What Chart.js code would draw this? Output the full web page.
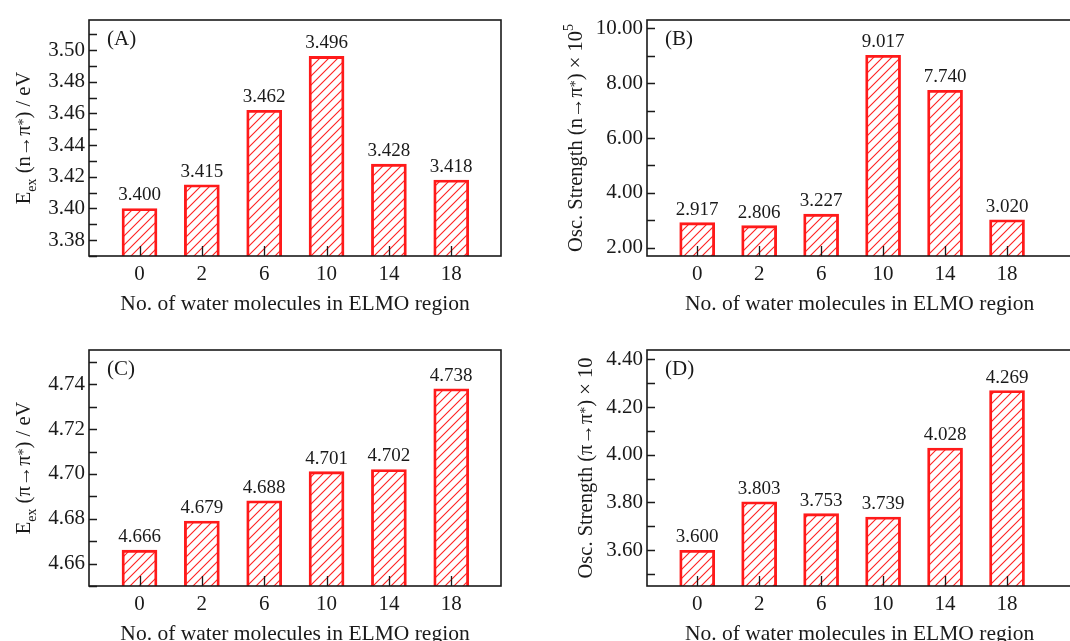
<!DOCTYPE html>
<html>
<head>
<meta charset="utf-8">
<script src="https://cdn.jsdelivr.net/npm/chart.js@4.4.1/dist/chart.umd.min.js"></script>
<style>
  html, body { margin: 0; padding: 0; background: #fff; }
  body { position: relative; width: 1070px; height: 641px; overflow: hidden; }
  .panel { position: absolute; }
</style>
</head>
<body>
<div class="panel" style="left:0;top:0;width:535px;height:320px"><canvas id="chartA"></canvas></div>
<div class="panel" style="left:535px;top:0;width:540px;height:320px"><canvas id="chartB"></canvas></div>
<div class="panel" style="left:0;top:320px;width:535px;height:330px"><canvas id="chartC"></canvas></div>
<div class="panel" style="left:535px;top:320px;width:540px;height:330px"><canvas id="chartD"></canvas></div>
<script>
// data
const categories = ['0', '2', '6', '10', '14', '18'];
const excNPi  = [3.400, 3.415, 3.462, 3.496, 3.428, 3.418];   // (A) E_ex n->pi* / eV
const oscNPi  = [2.917, 2.806, 3.227, 9.017, 7.740, 3.020];   // (B) osc. strength x 10^5
const excPiPi = [4.666, 4.679, 4.688, 4.701, 4.702, 4.738];   // (C) E_ex pi->pi* / eV
const oscPiPi = [3.600, 3.803, 3.753, 3.739, 4.028, 4.269];   // (D) osc. strength x 10

const SERIF = '"Liberation Serif", "Times New Roman", serif';
const RED = '#ff1a1a';
const INK = '#1a1a1a';

// diagonal hatch used for every bar
function hatch() {
  const c = document.createElement('canvas');
  c.width = 9; c.height = 9;
  const g = c.getContext('2d');
  g.strokeStyle = 'rgba(255,20,20,0.95)';
  g.lineWidth = 1.1;
  g.beginPath();
  g.moveTo(-1, 10); g.lineTo(10, -1);
  g.moveTo(-2, 2); g.lineTo(2, -2);
  g.moveTo(7, 11); g.lineTo(11, 7);
  g.stroke();
  return g.createPattern(c, 'repeat');
}

// rotated axis title with sub/superscripts
function drawRich(ctx, parts, cx, cy, size) {
  ctx.save();
  ctx.translate(cx, cy);
  ctx.rotate(-Math.PI / 2);
  ctx.fillStyle = INK;
  ctx.textBaseline = 'alphabetic';
  ctx.textAlign = 'left';
  const small = Math.round(size * 0.68);
  let total = 0;
  parts.forEach(p => {
    ctx.font = (p.sub || p.sup ? small : size) + 'px ' + SERIF;
    p.w = ctx.measureText(p.t).width;
    total += p.w;
  });
  let x = -total / 2;
  const base = size * 0.34;
  parts.forEach(p => {
    ctx.font = (p.sub || p.sup ? small : size) + 'px ' + SERIF;
    let y = base;
    if (p.sub) y += size * 0.28;
    if (p.sup) y -= size * (p.t === '*' ? 0.12 : 0.42);
    ctx.fillText(p.t, x, y);
    x += p.w;
  });
  ctx.restore();
}

const decorations = {
  id: 'decorations',
  afterDatasetsDraw(chart, args, opts) {
    const ctx = chart.ctx;
    const meta = chart.getDatasetMeta(0);
    ctx.save();
    ctx.fillStyle = INK;
    ctx.font = '19px ' + SERIF;
    ctx.textAlign = 'center';
    ctx.textBaseline = 'alphabetic';
    meta.data.forEach((bar, i) => {
      ctx.fillText(opts.values[i].toFixed(3), bar.x, bar.y - 8);
    });
    ctx.restore();
  },
  afterDraw(chart, args, opts) {
    const ctx = chart.ctx;
    const a = chart.chartArea;
    const xs = chart.scales.x, ys = chart.scales.y;
    ctx.save();
    // inward tick marks
    ctx.strokeStyle = INK;
    ctx.lineWidth = 1.3;
    ctx.beginPath();
    ys.ticks.forEach(t => {
      const y = Math.round(ys.getPixelForValue(t.value)) + 0.5;
      ctx.moveTo(a.left, y); ctx.lineTo(a.left + 8, y);
    });
    xs.ticks.filter(t => categories[t.value] !== undefined).forEach(t => {
      const x = Math.round(xs.getPixelForValue(t.value)) + 0.5;
      ctx.moveTo(x, a.bottom); ctx.lineTo(x, a.bottom - 10);
    });
    ctx.stroke();
    // frame
    ctx.lineWidth = 1.6;
    ctx.strokeRect(a.left, a.top, a.right - a.left, a.bottom - a.top);
    ctx.fillStyle = INK;
    ctx.font = '21px ' + SERIF;
    ctx.textAlign = 'left';
    ctx.textBaseline = 'middle';
    ctx.fillText(opts.tag, a.left + 18, a.top + 19);
    ctx.restore();
    drawRich(ctx, opts.yTitle, opts.yTitleX, (a.top + a.bottom) / 2, 20.5);
  }
};

function makePanel(id, values, p) {
  return new Chart(document.getElementById(id), {
    type: 'bar',
    data: {
      datasets: [{
        data: values.map((v, i) => ({ x: i, y: v })),
        backgroundColor: hatch(),
        borderColor: RED,
        borderWidth: 2.2,
        borderSkipped: false,
        barThickness: 35
      }]
    },
    options: {
      responsive: true,
      maintainAspectRatio: false,
      animation: false,
      layout: { padding: { left: 0, right: p.padRight, top: p.padTop, bottom: 0 } },
      plugins: {
        legend: { display: false },
        tooltip: { enabled: false },
        decorations: { values: values, tag: p.tag, yTitle: p.yTitle, yTitleX: p.yTitleX }
      },
      scales: {
        x: {
          type: 'linear',
          offset: false,
          min: -0.81,
          max: p.xMax,
          afterFit: s => { s.height = 64; },
          border: { display: false },
          grid: { display: false, offset: false, drawTicks: false, tickLength: 0 },
          ticks: {
            stepSize: 1,
            includeBounds: false,
            autoSkip: false,
            maxRotation: 0,
            padding: 6,
            color: INK,
            font: { family: SERIF, size: 21 },
            callback: v => categories[v] ?? ''
          },
          title: {
            display: true,
            text: 'No. of water molecules in ELMO region',
            color: INK,
            font: { family: SERIF, size: 21.5 },
            padding: { top: 0, bottom: 3 }
          }
        },
        y: {
          min: p.yMin,
          max: p.yMax,
          afterFit: s => { s.width = p.yWidth; },
          border: { display: false },
          grid: { display: false, drawTicks: false, tickLength: 0 },
          ticks: {
            stepSize: p.step,
            includeBounds: false,
            autoSkip: false,
            padding: 4,
            color: INK,
            font: { family: SERIF, size: 21 },
            callback: v => (Math.round(v / p.step) % 2 === 0 ? v.toFixed(2) : '')
          }
        }
      }
    },
    plugins: [decorations]
  });
}

makePanel('chartA', excNPi, {
  tag: '(A)', yMin: 3.37, yMax: 3.519, step: 0.01, yWidth: 89, padTop: 20, padRight: 34, xMax: 5.798,
  yTitleX: 23,
  yTitle: [{ t: 'E' }, { t: 'ex', sub: true }, { t: ' (n\u2192\u03c0' }, { t: '*', sup: true }, { t: ') / eV' }]
});
makePanel('chartB', oscNPi, {
  tag: '(B)', yMin: 1.7, yMax: 10.3, step: 1, yWidth: 112, padTop: 20, padRight: 0, xMax: 6.05,
  yTitleX: 40,
  yTitle: [{ t: 'Osc. Strength (n\u2192\u03c0' }, { t: '*', sup: true }, { t: ') \u00d7 10' }, { t: '5', sup: true }]
});
makePanel('chartC', excPiPi, {
  tag: '(C)', yMin: 4.65, yMax: 4.7553, step: 0.01, yWidth: 89, padTop: 30, padRight: 34, xMax: 5.798,
  yTitleX: 23,
  yTitle: [{ t: 'E' }, { t: 'ex', sub: true }, { t: ' (\u03c0\u2192\u03c0' }, { t: '*', sup: true }, { t: ') / eV' }]
});
makePanel('chartD', oscPiPi, {
  tag: '(D)', yMin: 3.45, yMax: 4.439, step: 0.1, yWidth: 112, padTop: 30, padRight: 0, xMax: 6.05,
  yTitleX: 50,
  yTitle: [{ t: 'Osc. Strength (\u03c0\u2192\u03c0' }, { t: '*', sup: true }, { t: ') \u00d7 10' }]
});
</script>
</body>
</html>
